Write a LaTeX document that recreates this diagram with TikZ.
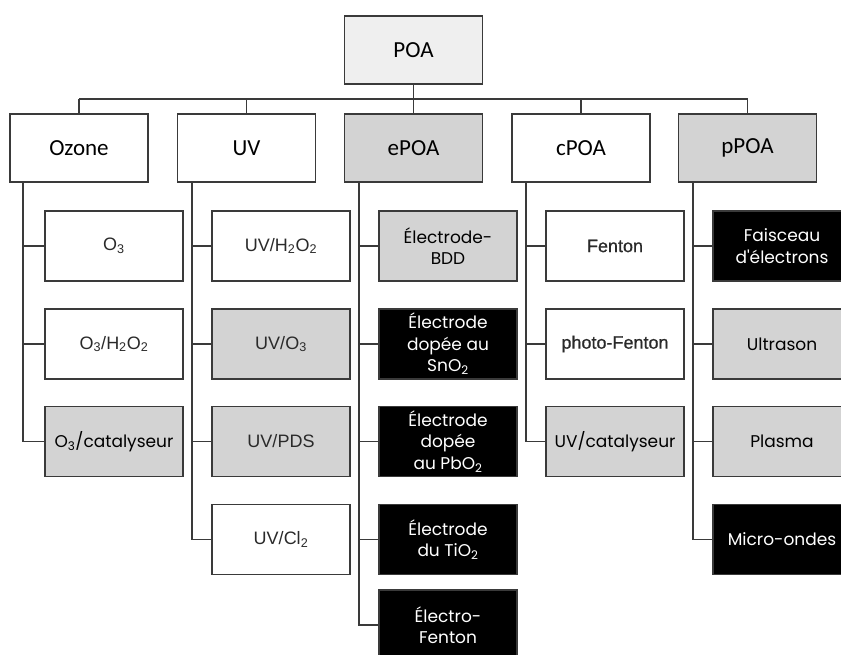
\documentclass[tikz,border=0pt]{standalone}
\usepackage{fontspec}
\newfontfamily\calfont{Carlito}
\newfontfamily\arialf{Liberation Sans}
\newfontfamily\arialb{Liberation Sans}[FakeBold=0.6]
\newfontfamily\cgf{Poppins}
\definecolor{linec}{HTML}{3A3A3A}
\definecolor{kidgray}{HTML}{D3D3D3}
\definecolor{poafill}{HTML}{EFEFEF}
\definecolor{txtg}{HTML}{2A2A2A}
\begin{document}
\begin{tikzpicture}[x=1pt,y=-1pt,
  topbox/.style={draw=linec, line width=1.3pt, minimum width=138pt, minimum height=68pt, inner sep=0pt, font=\calfont\fontsize{23}{26}\selectfont},
  kid/.style={draw=linec, line width=1.3pt, minimum width=138pt, minimum height=70pt, inner sep=0pt, align=center},
  ar/.style={kid, font=\arialf\fontsize{18}{20}\selectfont, text=txtg},
  arb/.style={kid, font=\arialb\fontsize{18}{20}\selectfont, text=txtg},
  cg/.style={kid, font=\cgf\fontsize{17}{21.5}\selectfont},
  gr/.style={fill=kidgray},
  blk/.style={fill=black, text=white},
  conn/.style={draw=linec, line width=1.3pt}]
\useasboundingbox (0,0) rectangle (841,655);
\clip (0,0) rectangle (841,655);
\fill[white] (0,0) rectangle (841,655);
% top
\node[topbox, fill=poafill] (poa) at (413.5,50) {POA};
\node[topbox, fill=white] (oz) at (79,148) {Ozone};
\node[topbox, fill=white] (uv) at (246.5,148) {UV};
\node[topbox, fill=kidgray] (epoa) at (413.5,148) {ePOA};
\node[topbox, fill=white] (cpoa) at (581,148) {cPOA};
\node[topbox, fill=kidgray] (ppoa) at (747.5,148) {pPOA};
\coordinate (bus) at (413.5,99);
\draw[conn] (poa.south) -- (bus);
\draw[conn] (oz.north |- bus) -- (ppoa.north |- bus);
\foreach \n in {oz,uv,epoa,cpoa,ppoa} \draw[conn] (\n.north |- bus) -- (\n.north);
% spines
\coordinate (s1) at (23,182);
\coordinate (s2) at (192,182);
\coordinate (s3) at (359,182);
\coordinate (s4) at (526,182);
\coordinate (s5) at (693,182);
% Ozone
\node[ar, fill=white] (o1) at (114,246) {O\textsubscript{3}};
\node[ar, fill=white] (o2) at (114,344) {O\textsubscript{3}/H\textsubscript{2}O\textsubscript{2}};
\node[cg, gr] (o3) at (114,441.5) {O\textsubscript{3}/catalyseur};
% UV
\node[ar, fill=white] (u1) at (281,246) {UV/H\textsubscript{2}O\textsubscript{2}};
\node[ar, gr] (u2) at (281,344) {UV/O\textsubscript{3}};
\node[ar, gr] (u3) at (281,441.5) {UV/PDS};
\node[ar, fill=white] (u4) at (281,539.5) {UV/Cl\textsubscript{2}};
% ePOA
\node[cg, gr] (e1) at (448,246) {Électrode-\\BDD};
\node[cg, blk] (e2) at (448,344) {Électrode\\dopée au\\SnO\textsubscript{2}};
\node[cg, blk] (e3) at (448,441.5) {Électrode\\dopée\\au PbO\textsubscript{2}};
\node[cg, blk] (e4) at (448,539.5) {Électrode\\du TiO\textsubscript{2}};
\node[cg, blk] (e5) at (448,625) {Électro-\\Fenton};
% cPOA
\node[arb, fill=white] (c1) at (615,246) {Fenton};
\node[arb, fill=white] (c2) at (615,344) {photo-Fenton};
\node[cg, gr] (c3) at (615,441.5) {UV/catalyseur};
% pPOA
\node[cg, blk] (p1) at (782,246) {Faisceau\\d'électrons};
\node[cg, gr] (p2) at (782,344) {Ultrason};
\node[cg, gr] (p3) at (782,441.5) {Plasma};
\node[cg, blk] (p4) at (782,539.5) {Micro-ondes};
% connectors
\foreach \c in {o1,o2,o3} \draw[conn] (s1) |- (\c.west);
\foreach \c in {u1,u2,u3,u4} \draw[conn] (s2) |- (\c.west);
\foreach \c in {e1,e2,e3,e4,e5} \draw[conn] (s3) |- (\c.west);
\foreach \c in {c1,c2,c3} \draw[conn] (s4) |- (\c.west);
\foreach \c in {p1,p2,p3,p4} \draw[conn] (s5) |- (\c.west);
\end{tikzpicture}
\end{document}
